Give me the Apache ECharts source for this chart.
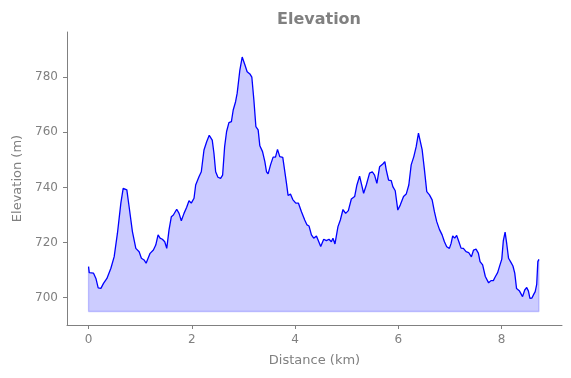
<!DOCTYPE html>
<html>
<head>
<meta charset="utf-8">
<script src="https://cdn.jsdelivr.net/npm/echarts@6/dist/echarts.min.js"></script>
<style>
  html, body { margin: 0; padding: 0; background: #fff; }
  #chart { width: 571px; height: 378px; }
</style>
</head>
<body>
<div id="chart"></div>
<script>
// distance along the track (km)
const distanceKm = [
  0.000, 0.014, 0.046, 0.097, 0.143, 0.187, 0.240, 0.290, 0.356, 0.433,
  0.497, 0.560, 0.626, 0.671, 0.703, 0.742, 0.786, 0.850, 0.916, 0.980,
  1.024, 1.076, 1.115, 1.140, 1.192, 1.256, 1.302, 1.347, 1.386, 1.430,
  1.476, 1.515, 1.559, 1.604, 1.643, 1.708, 1.753, 1.797, 1.849, 1.901,
  1.946, 1.990, 2.043, 2.075, 2.139, 2.184, 2.236, 2.288, 2.338, 2.396,
  2.429, 2.462, 2.506, 2.558, 2.597, 2.636, 2.674, 2.719, 2.767, 2.802,
  2.848, 2.879, 2.931, 2.976, 3.028, 3.072, 3.125, 3.163, 3.202, 3.241,
  3.285, 3.318, 3.370, 3.415, 3.447, 3.478, 3.525, 3.575, 3.621, 3.660,
  3.704, 3.762, 3.787, 3.834, 3.865, 3.911, 3.956, 4.014, 4.066, 4.124,
  4.187, 4.232, 4.271, 4.317, 4.361, 4.414, 4.452, 4.497, 4.555, 4.607,
  4.657, 4.703, 4.734, 4.773, 4.831, 4.877, 4.928, 4.980, 5.032, 5.090,
  5.154, 5.198, 5.250, 5.283, 5.328, 5.380, 5.443, 5.496, 5.540, 5.585,
  5.637, 5.700, 5.739, 5.766, 5.811, 5.863, 5.894, 5.940, 5.990, 6.037,
  6.101, 6.153, 6.203, 6.249, 6.300, 6.346, 6.390, 6.423, 6.462, 6.506,
  6.551, 6.603, 6.655, 6.699, 6.744, 6.796, 6.848, 6.893, 6.937, 6.989,
  7.022, 7.053, 7.092, 7.130, 7.173, 7.215, 7.260, 7.312, 7.362, 7.415,
  7.457, 7.505, 7.550, 7.583, 7.633, 7.685, 7.749, 7.795, 7.840, 7.878,
  7.923, 7.969, 8.004, 8.033, 8.068, 8.100, 8.135, 8.181, 8.220, 8.255,
  8.290, 8.348, 8.406, 8.448, 8.487, 8.520, 8.549, 8.588, 8.622, 8.651,
  8.680, 8.702, 8.723
]

// elevation (m)
const elevationM = [
  711.3, 709.1, 709.4, 708.9, 707.0, 703.6, 703.4, 705.2, 707.0, 710.7,
  714.9, 723.4, 734.3, 739.7, 740.3, 739.1, 733.0, 724.0, 717.9, 716.7,
  714.3, 713.7, 712.5, 713.7, 716.1, 717.3, 719.1, 722.8, 721.6, 721.2,
  720.3, 717.9, 724.6, 729.4, 730.0, 732.1, 730.6, 727.9, 730.6, 732.8,
  735.2, 734.3, 736.1, 740.9, 743.9, 745.7, 753.6, 756.6, 758.9, 757.2,
  752.4, 745.7, 743.7, 743.3, 744.5, 754.8, 760.3, 763.5, 763.9, 768.1,
  771.1, 774.2, 782.6, 787.3, 784.5, 782.0, 781.2, 780.0, 771.8, 762.1,
  760.9, 755.1, 753.0, 749.4, 745.7, 744.9, 748.2, 751.0, 751.0, 753.8,
  751.2, 750.9, 750.6, 741.5, 737.1, 737.6, 735.6, 734.3, 734.3, 731.2,
  728.2, 726.4, 726.0, 722.8, 721.6, 722.4, 722.8, 718.6, 721.2, 720.7,
  721.2, 720.3, 721.6, 719.5, 725.8, 728.2, 732.0, 730.6, 731.6, 735.8,
  736.7, 740.9, 744.1, 741.5, 737.9, 740.9, 745.2, 745.7, 744.5, 741.5,
  747.5, 748.5, 749.4, 746.4, 742.7, 742.5, 740.3, 738.8, 731.8, 733.6,
  736.7, 737.6, 740.9, 748.2, 751.2, 754.8, 759.7, 759.1, 753.6, 746.4,
  738.5, 737.3, 735.5, 731.2, 727.6, 724.8, 722.8, 720.3, 718.5, 717.9,
  719.7, 722.4, 721.6, 722.6, 720.3, 718.0, 717.9, 716.7, 716.4, 714.8,
  717.3, 717.6, 716.2, 713.1, 711.9, 707.7, 705.4, 706.2, 706.2, 707.6,
  709.1, 711.9, 714.0, 720.6, 723.8, 719.5, 714.3, 712.8, 711.5, 708.9,
  703.3, 702.4, 700.4, 702.8, 703.7, 702.4, 699.8, 699.9, 701.2, 702.2,
  704.8, 713.1, 713.9
]

// tick labels
const xTicks = [0, 2, 4, 6, 8]
const yTicks = [700, 720, 740, 760, 780]

// the shaded area goes down to this elevation
const baseElevation = 695

const grey = '#808080'
const font = 'DejaVu Sans'

let myChart = echarts.init(document.getElementById('chart'), null, { renderer: 'canvas' })

const profile = distanceKm.map((d, i) => [d, elevationM[i]])
const last = distanceKm.length - 1
// outline of the filled polygon (left edge, bottom, right edge)
const outline = [
  [distanceKm[0], elevationM[0]],
  [distanceKm[0], baseElevation],
  [distanceKm[last], baseElevation],
  [distanceKm[last], elevationM[last]]
]

let option = {
  animation: false,
  backgroundColor: '#ffffff',
  textStyle: { fontFamily: font },
  title: {
    text: 'Elevation',
    left: 314,
    top: 7,
    textAlign: 'center',
    textStyle: { fontFamily: font, fontWeight: 'bold', fontSize: 16, color: grey }
  },
  grid: {
    left: 67,
    right: 9,
    top: 32,
    bottom: 53,
    containLabel: false,
    outerBoundsMode: 'none'
  },
  xAxis: {
    type: 'value',
    min: -0.417,
    max: 9.17,
    name: 'Distance (km)',
    nameLocation: 'middle',
    nameGap: 29,
    nameTextStyle: { fontFamily: font, fontSize: 13, color: grey },
    axisLine: { show: true, onZero: false, lineStyle: { color: grey, width: 1 } },
    axisTick: { show: true, inside: false, length: 4, customValues: xTicks, lineStyle: { color: grey } },
    axisLabel: {
      customValues: xTicks,
      margin: 9,
      fontFamily: font,
      fontSize: 12,
      color: grey
    },
    splitLine: { show: false }
  },
  yAxis: {
    type: 'value',
    min: 690.1,
    max: 796.4,
    name: 'Elevation (m)',
    nameLocation: 'middle',
    nameGap: 43,
    nameTextStyle: { fontFamily: font, fontSize: 13, color: grey },
    axisLine: { show: true, onZero: false, lineStyle: { color: grey, width: 1 } },
    axisTick: { show: true, inside: false, length: 4, customValues: yTicks, lineStyle: { color: grey } },
    axisLabel: {
      customValues: yTicks,
      margin: 9,
      fontFamily: font,
      fontSize: 12,
      color: grey
    },
    splitLine: { show: false }
  },
  series: [
    {
      name: 'outline',
      type: 'line',
      data: outline,
      showSymbol: false,
      silent: true,
      lineStyle: { color: 'rgba(0,0,255,0.2)', width: 1.3 },
      z: 2
    },
    {
      name: 'Elevation',
      type: 'line',
      data: profile,
      showSymbol: false,
      smooth: false,
      lineStyle: { color: '#0000ff', width: 1.3 },
      areaStyle: { origin: baseElevation, color: 'rgba(0,0,255,0.2)', opacity: 1 },
      z: 3
    }
  ]
}

option && myChart.setOption(option)
</script>
</body>
</html>
